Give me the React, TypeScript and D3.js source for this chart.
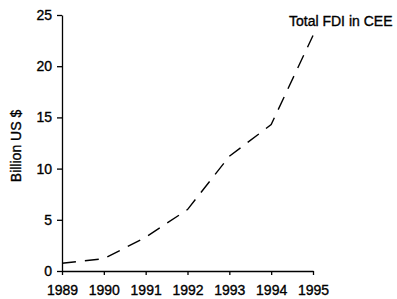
import React, { useEffect, useRef } from "react";
import * as d3 from "d3";

const years = [1989, 1990, 1991, 1992, 1993, 1994, 1995];
const fdi = [0.75, 1.2, 3.3, 6.0, 11.2, 14.3, 23.0];
const yTicks = [0, 5, 10, 15, 20, 25];
const seriesLabel = "Total FDI in CEE";
const yLabel = "Billion US $";

const W = 397;
const H = 299;
const margin = { left: 62, right: 84, top: 15, bottom: 28 };

export default function App() {
  const ref = useRef<SVGSVGElement | null>(null);
  useEffect(() => {
    const svg = d3.select(ref.current);
    svg.selectAll("*").remove();
    const x = d3.scaleLinear().domain([1989, 1995]).range([margin.left, W - margin.right]);
    const y = d3.scaleLinear().domain([0, 25]).range([H - margin.bottom, margin.top]);
    const font = "'Liberation Sans', Arial, sans-serif";
    const styleText = (sel: any) =>
      sel.attr("font-family", font).attr("font-size", 14).attr("fill", "#000")
        .attr("stroke", "#000").attr("stroke-width", 0.35);

    const xAxis = svg.append("g")
      .attr("transform", `translate(0,${H - margin.bottom})`)
      .call(d3.axisBottom(x).tickValues(years).tickFormat(d3.format("d")).tickSizeInner(4).tickSizeOuter(0).tickPadding(10));
    styleText(xAxis.selectAll("text"));
    xAxis.selectAll("line,path").attr("stroke", "#000").attr("stroke-width", 1.3);

    const yAxis = svg.append("g")
      .attr("transform", `translate(${margin.left},0)`)
      .call(d3.axisLeft(y).tickValues(yTicks).tickSizeInner(5).tickSizeOuter(0).tickPadding(5));
    styleText(yAxis.selectAll("text"));
    yAxis.selectAll("line,path").attr("stroke", "#000").attr("stroke-width", 1.3);

    const line = d3.line<number>()
      .x((_, i) => x(years[i]))
      .y((d) => y(d))
      .curve(d3.curveLinear);
    svg.append("path")
      .datum(fdi)
      .attr("d", line)
      .attr("fill", "none")
      .attr("stroke", "#000")
      .attr("stroke-width", 1.4)
      .attr("stroke-dasharray", "14,9");

    styleText(svg.append("text")
      .attr("x", 289)
      .attr("y", 26)
      .text(seriesLabel));

    styleText(svg.append("text")
      .attr("transform", `translate(21,146) rotate(-90)`)
      .attr("text-anchor", "middle")
      .text(yLabel));
  }, []);
  return (
    <svg ref={ref} width={W} height={H}
      style={{ position: "absolute", left: 0, top: 0, display: "block", background: "#fff" }} />
  );
}
